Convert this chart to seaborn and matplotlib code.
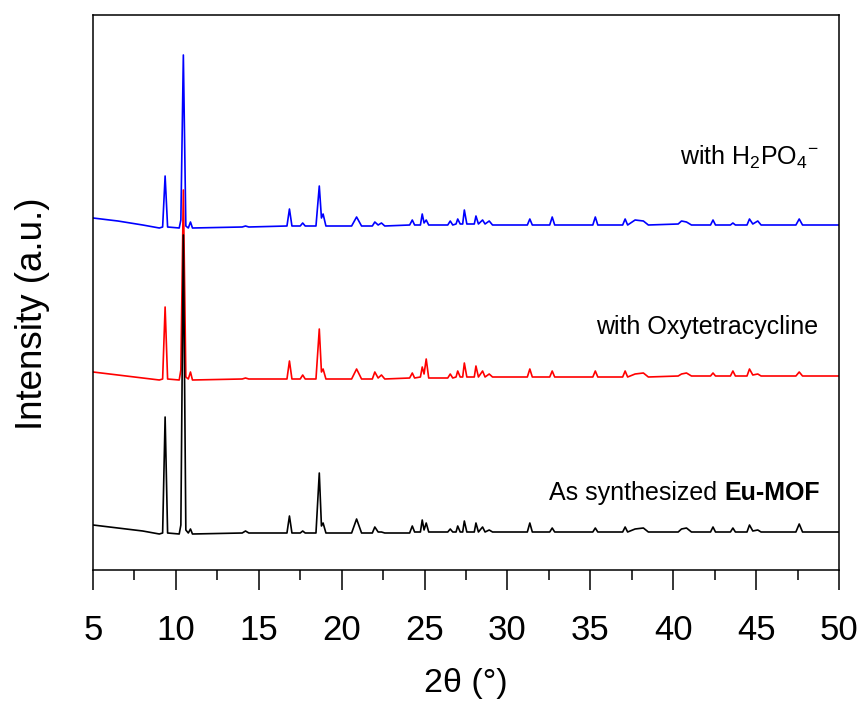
import matplotlib
matplotlib.use("Agg")
import matplotlib.pyplot as plt
import seaborn as sns
import pandas as pd
from matplotlib.ticker import MultipleLocator

# ---- data (intensities in arbitrary units, offset already applied) ----
two_theta = [5.0, 6.5, 8.0, 9.0, 9.2, 9.35, 9.5, 10.2, 10.3, 10.45, 10.6, 10.75, 10.88, 11.0,
             14.0, 14.2, 14.4, 16.7, 16.85, 17.0, 17.5, 17.65, 17.8, 18.45, 18.65, 18.78, 18.88,
             19.05, 20.6, 20.9, 21.2, 21.85, 22.0, 22.2, 22.4, 22.6, 24.1, 24.26, 24.4, 24.75,
             24.86, 24.97, 25.1, 25.25, 26.4, 26.55, 26.7, 26.9, 27.0, 27.15, 27.3, 27.4, 27.55,
             28.0, 28.1, 28.25, 28.5, 28.65, 28.9, 29.1, 31.2, 31.35, 31.5, 32.55, 32.7, 32.85,
             35.15, 35.3, 35.45, 36.95, 37.1, 37.25, 37.7, 38.2, 38.5, 40.3, 40.5, 40.8, 41.1,
             42.25, 42.4, 42.55, 43.45, 43.6, 43.75, 44.45, 44.6, 44.8, 45.1, 45.3, 47.4, 47.6,
             47.8, 50.0]

with_h2po4 = [352, 349, 345, 342, 343, 394, 343, 342, 350, 515, 344, 342, 348, 342,
              343, 344, 343, 344, 361, 344, 344, 347, 344, 344, 384, 352, 356,
              344, 344, 353, 344, 344, 348, 345, 347, 344, 345, 350, 345, 345,
              356, 347, 350, 345, 345, 349, 345, 346, 351, 346, 346, 360, 346,
              346, 354, 346, 350, 346, 349, 345, 345, 351, 345, 345, 353, 345,
              345, 353, 345, 345, 351, 345, 350, 349, 345, 346, 349, 348, 345,
              345, 350, 345, 345, 347, 345, 345, 351, 346, 349, 345, 345, 351,
              345, 345]

with_oxytetracycline = [198, 195, 192, 190, 191, 263, 191, 190, 200, 380, 193, 191, 198, 190,
                        191, 192, 191, 191, 209, 191, 191, 195, 191, 191, 241, 198, 201,
                        191, 191, 201, 191, 191, 198, 192, 195, 191, 192, 197, 192, 193,
                        203, 196, 211, 192, 192, 196, 192, 193, 199, 193, 193, 207, 193,
                        193, 204, 193, 199, 193, 196, 193, 193, 201, 193, 193, 199, 193,
                        193, 199, 193, 193, 199, 193, 196, 197, 193, 194, 196, 197, 194,
                        194, 197, 194, 194, 199, 194, 194, 201, 195, 196, 194, 194, 198,
                        194, 194]

as_synthesized = [45, 42, 39, 36, 37, 153, 37, 36, 45, 335, 40, 37, 41, 36,
                  37, 39, 37, 37, 54, 37, 37, 39, 37, 37, 97, 44, 47,
                  37, 37, 51, 37, 37, 43, 38, 38, 37, 37, 44, 38, 38,
                  50, 40, 47, 38, 38, 41, 38, 38, 44, 38, 38, 49, 38,
                  38, 47, 38, 43, 38, 40, 38, 38, 47, 38, 38, 42, 38,
                  38, 42, 38, 38, 43, 38, 41, 42, 38, 38, 41, 42, 38,
                  38, 43, 38, 38, 42, 38, 38, 45, 39, 40, 38, 38, 46,
                  38, 38]

series_names = ["with H2PO4-", "with Oxytetracycline", "As synthesized Eu-MOF"]
series_colors = ["#0000FF", "#FF0000", "#000000"]
x_ticks = [5, 10, 15, 20, 25, 30, 35, 40, 45, 50]

# ---- build long table ----
frames = []
for name, vals in zip(series_names, [with_h2po4, with_oxytetracycline, as_synthesized]):
    frames.append(pd.DataFrame({"two_theta": two_theta, "intensity": vals, "sample": name}))
df = pd.concat(frames, ignore_index=True)

# ---- style ----
sns.set_style("white")
plt.rcParams["font.family"] = ["Liberation Sans", "DejaVu Sans"]
plt.rcParams["mathtext.fontset"] = "custom"
plt.rcParams["mathtext.rm"] = "Liberation Sans"
plt.rcParams["mathtext.it"] = "Liberation Sans:italic"
plt.rcParams["mathtext.bf"] = "Liberation Sans:bold"
plt.rcParams["text.color"] = "black"
plt.rcParams["axes.labelcolor"] = "black"
plt.rcParams["xtick.color"] = "black"
plt.rcParams["xtick.labelcolor"] = "black"

fig = plt.figure(figsize=(8.64, 7.09), dpi=100)
ax = fig.add_axes([93 / 864, 1 - 570 / 709, (839 - 93) / 864, (570 - 15) / 709])

sns.lineplot(data=df, x="two_theta", y="intensity", hue="sample", hue_order=series_names,
             palette=dict(zip(series_names, series_colors)), sort=False, estimator=None,
             linewidth=1.2, legend=False, ax=ax)

ax.set_xlim(5, 50)
ax.set_ylim(0, 555)
ax.set_xticks(x_ticks)
ax.xaxis.set_minor_locator(MultipleLocator(2.5))
ax.set_yticks([])
ax.tick_params(axis="x", which="major", direction="out", length=14.5, width=1.1,
               labelsize=25, pad=17, bottom=True, colors="black")
ax.tick_params(axis="x", which="minor", direction="out", length=7.5, width=1.1, bottom=True)
for lbl in ax.get_xticklabels():
    lbl.set_fontfamily(["Liberation Sans Narrow", "Liberation Sans", "DejaVu Sans"])
for sp in ax.spines.values():
    sp.set_visible(True)
    sp.set_color("black")
    sp.set_linewidth(1.1)

ax.set_xlabel("2θ (°)", fontsize=24.5, labelpad=15)
ax.set_ylabel("Intensity (a.u.)", fontsize=26.5, va="baseline")
ax.yaxis.set_label_coords((42 - 93) / 746, (570 - 314) / 555)

# ---- curve labels ----
ax.text(48.75, 413, r"with H$_2$PO$_4$$^{-}$", ha="right", va="center", fontsize=18)
ax.text(48.75, 243, "with Oxytetracycline", ha="right", va="center", fontsize=18)
bold = ax.text(48.85, 77, "Eu-MOF", ha="right", va="center", fontsize=18, fontweight="bold")
ax.annotate("As synthesized ", xy=(0, 0), xycoords=bold, ha="right", va="bottom", fontsize=18)

fig.savefig("out.png", dpi=100)
